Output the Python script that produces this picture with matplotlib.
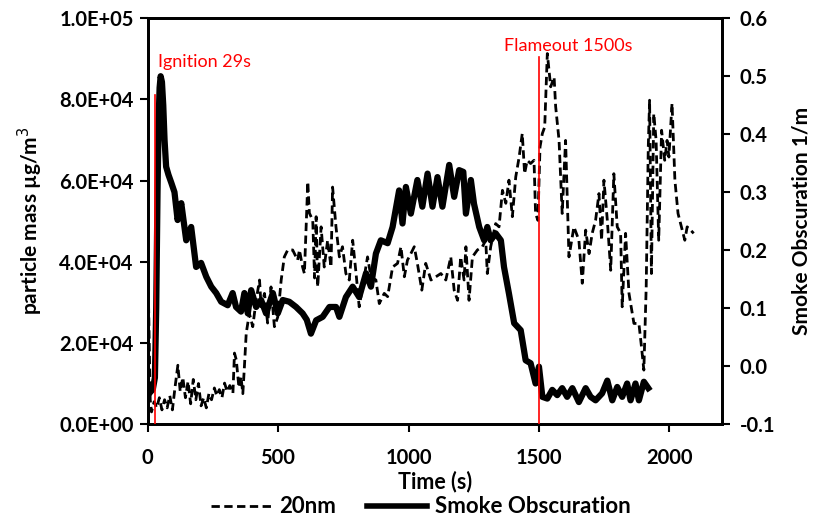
import matplotlib
matplotlib.use("Agg")
import matplotlib.pyplot as plt
from matplotlib.ticker import FuncFormatter, MultipleLocator
from matplotlib.lines import Line2D

plt.rcParams["font.family"] = ["Lato", "DejaVu Sans"]

# 20nm particle mass (left axis)
nm_time = [0, 5, 10, 15, 25, 35, 45, 55, 65, 75, 85, 95, 105, 116, 125, 135, 145, 155,
           165, 175, 185, 195, 205, 215, 225, 235, 245, 256, 265, 275, 285, 295, 305,
           315, 327, 333, 340, 350, 358, 365, 371, 378, 390, 403, 416, 429, 435, 448,
           460, 473, 486, 499, 512, 524, 537, 556, 575, 582, 594, 601, 614, 620, 633,
           640, 646, 652, 665, 677, 690, 703, 709, 722, 735, 747, 760, 773, 786, 799,
           811, 824, 843, 856, 875, 888, 907, 920, 939, 958, 971, 984, 996, 1009, 1022,
           1034, 1051, 1066, 1086, 1105, 1124, 1143, 1162, 1175, 1188, 1200, 1213, 1220,
           1232, 1245, 1264, 1283, 1296, 1302, 1315, 1334, 1347, 1360, 1373, 1385, 1398,
           1411, 1424, 1436, 1445, 1455, 1468, 1481, 1487, 1496, 1504, 1513, 1522, 1532,
           1545, 1558, 1564, 1577, 1589, 1602, 1615, 1634, 1653, 1666, 1679, 1692, 1704,
           1717, 1730, 1740, 1749, 1762, 1775, 1787, 1800, 1813, 1819, 1832, 1845, 1864,
           1883, 1893, 1902, 1911, 1919, 1924, 1931, 1940, 1949, 1959, 1970, 1982, 1991,
           1998, 2010, 2021, 2033, 2046, 2059, 2068, 2081, 2093]
nm_mass = [42000, 25000, 6000, 3000, 5500, 4000, 6500, 3500, 6000, 4000, 7000, 3500, 9000,
           14500, 8000, 11500, 6500, 10500, 5000, 11000, 6000, 10000, 4500, 6500, 4000,
           7500, 6000, 8900, 7000, 8500, 6500, 10100, 8000, 9500, 7600, 17500, 15800, 9000,
           11600, 7500, 14100, 22400, 27300, 24000, 30500, 35500, 28900, 32200, 24900,
           33800, 24000, 26400, 35500, 41200, 42900, 42900, 40400, 42900, 38700, 37100,
           59700, 52000, 50200, 36000, 51100, 33800, 48600, 38700, 45300, 38700, 58400,
           48600, 41200, 43700, 37100, 35500, 45300, 37100, 28900, 33800, 41200, 36300,
           35500, 29700, 32200, 31400, 38700, 39600, 43700, 36300, 40400, 42000, 43700,
           39600, 33000, 39600, 35500, 36300, 37100, 35500, 41200, 33000, 30500, 41200,
           35500, 43700, 30500, 41200, 42900, 43700, 45300, 37100, 43700, 49400, 48600,
           57600, 54400, 60100, 51100, 60900, 65800, 71600, 61700, 65000, 64200, 65000,
           51900, 50200, 68300, 71600, 73200, 91300, 83100, 85500, 78200, 69900, 51900,
           69900, 41200, 48600, 45300, 34700, 47800, 42000, 47000, 50200, 56800, 45300,
           60100, 50200, 37900, 61700, 48600, 47000, 28900, 47000, 32200, 24800, 24800,
           19000, 13300, 33800, 68300, 79800, 37100, 76500, 69900, 45300, 72400, 65000,
           69900, 65800, 79000, 60100, 51900, 48600, 45300, 48600, 47800, 47000]

# smoke obscuration (right axis)
smoke_time = [0, 10, 20, 28, 33, 38, 42, 46, 50, 55, 60, 65, 71, 80, 91, 103, 115, 129,
              148, 167, 186, 205, 225, 244, 263, 282, 307, 326, 339, 358, 371, 384, 397,
              416, 435, 454, 480, 499, 518, 543, 569, 594, 610, 626, 646, 671, 697, 722,
              735, 760, 786, 811, 837, 856, 875, 894, 920, 939, 964, 977, 990, 1009, 1034,
              1053, 1073, 1092, 1111, 1130, 1156, 1175, 1194, 1210, 1220, 1239, 1251, 1271,
              1290, 1302, 1315, 1334, 1354, 1366, 1385, 1405, 1430, 1449, 1468, 1487, 1500,
              1513, 1532, 1551, 1570, 1589, 1608, 1628, 1653, 1679, 1698, 1717, 1742, 1762,
              1781, 1800, 1819, 1838, 1851, 1870, 1883, 1902, 1919]
smoke_obs = [-0.05, -0.045, -0.04, -0.02, 0.10, 0.30, 0.42, 0.48, 0.50, 0.49, 0.45, 0.39,
             0.344, 0.33, 0.316, 0.30, 0.252, 0.281, 0.217, 0.240, 0.171, 0.178, 0.154,
             0.137, 0.126, 0.111, 0.105, 0.126, 0.102, 0.094, 0.126, 0.091, 0.131, 0.102,
             0.114, 0.091, 0.126, 0.091, 0.114, 0.111, 0.102, 0.091, 0.08, 0.056, 0.079,
             0.085, 0.102, 0.102, 0.085, 0.119, 0.137, 0.119, 0.160, 0.137, 0.194, 0.217,
             0.212, 0.240, 0.303, 0.246, 0.309, 0.263, 0.321, 0.275, 0.332, 0.275, 0.326,
             0.275, 0.347, 0.292, 0.338, 0.335, 0.263, 0.321, 0.280, 0.240, 0.217, 0.240,
             0.217, 0.229, 0.217, 0.171, 0.125, 0.074, 0.062, 0.010, 0.005, -0.030, -0.001,
             -0.053, -0.056, -0.041, -0.050, -0.038, -0.053, -0.038, -0.062, -0.038, -0.053,
             -0.059, -0.047, -0.025, -0.059, -0.036, -0.053, -0.030, -0.059, -0.030, -0.059,
             -0.027, -0.038]

# event markers
events = ["Ignition 29s", "Flameout 1500s"]
event_time = [29, 1500]
event_top = [81000, 90500]
label_time = [38, 1366]
label_y = [89200, 93100]

fig = plt.figure(figsize=(8.2, 5.21), dpi=100)
ax = fig.add_axes([0.180, 0.186, 0.700, 0.779])
ax2 = ax.twinx()

ax.plot(nm_time, nm_mass, color="black", lw=2, linestyle=(0, (3, 1.6)))
ax2.plot(smoke_time, smoke_obs, color="black", lw=4.5, solid_joinstyle="round")

for name, t, top, lt, ly in zip(events, event_time, event_top, label_time, label_y):
    ax2.plot([t, t], [0, top], color="red", lw=1.2, transform=ax.transData, zorder=5)
    ax.text(lt, ly, name, color="red", fontsize=13, va="center", ha="left")

ax.set_xlim(0, 2200)
ax.set_ylim(0, 100000)
ax2.set_ylim(-0.1, 0.6)
ax.xaxis.set_major_locator(MultipleLocator(500))
ax.yaxis.set_major_locator(MultipleLocator(20000))
ax2.yaxis.set_major_locator(MultipleLocator(0.1))
ax.yaxis.set_major_formatter(FuncFormatter(lambda v, p: f"{v:.1E}"))
ax2.yaxis.set_major_formatter(FuncFormatter(lambda v, p: f"{v:.1f}"))

for a in (ax, ax2):
    for s in a.spines.values():
        s.set_linewidth(2)
    a.tick_params(direction="out", length=6, width=1.5, labelsize=14.5, pad=4)
    for lab in a.get_xticklabels() + a.get_yticklabels():
        lab.set_fontweight("bold")
ax.tick_params(axis="x", pad=11)
ax2.tick_params(axis="y", pad=7)

ax.set_xlabel("Time (s)", fontsize=15.5, fontweight="bold", labelpad=2)
ax.set_ylabel("particle mass µg/m$^3$", fontsize=15, fontweight="bold", labelpad=10)
ax2.set_ylabel("Smoke Obscuration 1/m", fontsize=15, fontweight="bold", labelpad=12)

handles = [Line2D([], [], color="black", lw=2, linestyle=(0, (3, 1.6))),
           Line2D([], [], color="black", lw=4)]
fig.legend(handles, ["20nm", "Smoke Obscuration"], loc="center", ncol=2,
           bbox_to_anchor=(0.513, 0.027), frameon=False, handlelength=2.7,
           columnspacing=1.4, handletextpad=0.35, prop={"size": 16, "weight": "bold"})

fig.savefig("out.png", dpi=100)
